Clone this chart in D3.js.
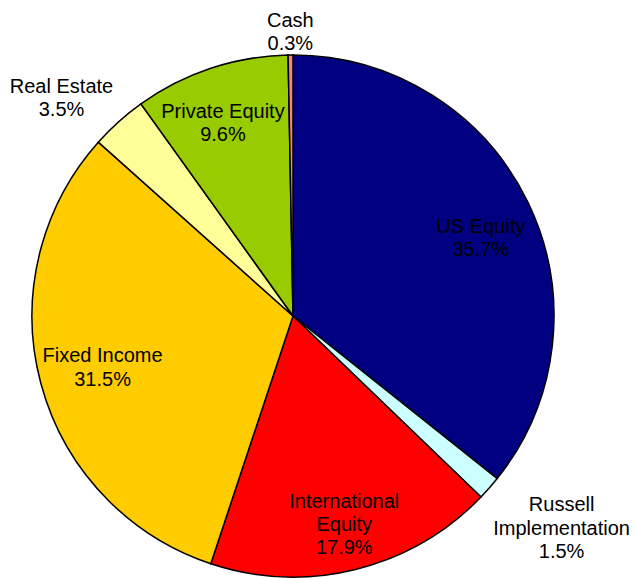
<!DOCTYPE html>
<html>
<head>
<meta charset="utf-8">
<script src="https://cdn.jsdelivr.net/npm/d3@7"></script>
<style>
  html, body { margin: 0; padding: 0; background: #fff; }
  svg { display: block; }
</style>
</head>
<body>
<svg width="635" height="578"></svg>
<script>
var width = 635;
var height = 578;

// slices, clockwise from 12 o'clock
var categories = ["US Equity", "Russell Implementation", "International Equity", "Fixed Income", "Real Estate", "Private Equity", "Cash"];
var values = [35.7, 1.5, 17.9, 31.5, 3.5, 9.6, 0.3];
var labelLines = [["US Equity"], ["Russell", "Implementation"], ["International", "Equity"], ["Fixed Income"], ["Real Estate"], ["Private Equity"], ["Cash"]];
var colors = ["#000080", "#CCFFFF", "#FF0000", "#FFCC00", "#FFFF99", "#99CC00", "#FF8080"];

// label placement: distance from centre (fraction of radius) and angle nudge (degrees)
var labelPlace = {
    "US Equity": [0.78, 3],
    "Russell Implementation": [1.31, -3],
    "International Equity": [0.82, 0],
    "Fixed Income": [0.755, 0],
    "Real Estate": [1.22, -4.7],
    "Private Equity": [0.79, -1.5],
    "Cash": [1.09, 0]
};

var cx = 293, cy = 316, R = 261;
var fontSize = 20, lineH = 23.3;

var svg = d3.select("svg");
var g = svg.append("g").attr("transform", "translate(" + cx + "," + cy + ")");

var pie = d3.pie().sort(null).value(function(d) { return d.value; });
var arc = d3.arc().innerRadius(0).outerRadius(R);

var data = categories.map(function(c, i) {
    return {name: c, value: values[i], lines: labelLines[i], color: colors[i]};
});
var arcs = pie(data);

g.selectAll("path.slice")
    .data(arcs)
    .enter()
    .append("path")
    .attr("class", "slice")
    .attr("d", arc)
    .attr("fill", function(d) { return d.data.color; })
    .attr("stroke", "#000")
    .attr("stroke-width", 1.5)
    .attr("stroke-linejoin", "miter");

var labels = g.selectAll("text.lbl")
    .data(arcs)
    .enter()
    .append("text")
    .attr("class", "lbl")
    .attr("text-anchor", "middle")
    .attr("font-family", "'Liberation Sans', Arial, sans-serif")
    .attr("font-size", fontSize)
    .attr("fill", "#000");

labels.each(function(d) {
    var p = labelPlace[d.data.name];
    var a = (d.startAngle + d.endAngle) / 2 + p[1] * Math.PI / 180;
    var r = R * p[0];
    var x = Math.sin(a) * r;
    var y = -Math.cos(a) * r;
    var lines = d.data.lines.concat([d3.format(".1f")(d.data.value) + "%"]);
    var y0 = y - (lines.length - 1) * lineH / 2 + fontSize * 0.36;
    var t = d3.select(this);
    lines.forEach(function(s, i) {
        t.append("tspan")
            .attr("x", x)
            .attr("y", y0 + i * lineH)
            .text(s);
    });
});
</script>
</body>
</html>
